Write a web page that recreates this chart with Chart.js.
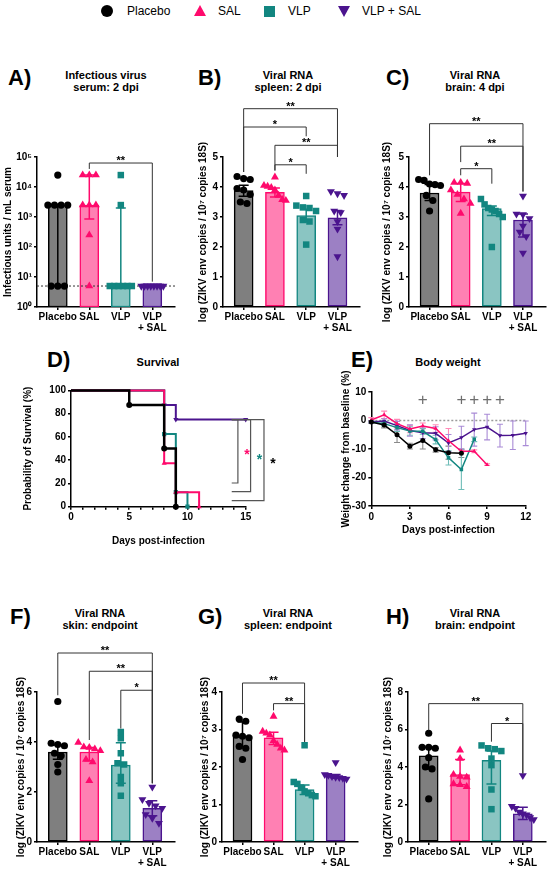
<!DOCTYPE html>
<html>
<head>
<meta charset="utf-8">
<script src="https://cdn.jsdelivr.net/npm/chart.js@4.4.1/dist/chart.umd.min.js"></script>
<style>
  body { margin: 0; width: 550px; height: 872px; position: relative; overflow: hidden; background: #fff;
         font-family: 'Liberation Sans', Arial, sans-serif; color: #000; }
  canvas { position: absolute; }
  .letter { position: absolute; font-weight: bold; font-size: 22px; line-height: 22px; }
  .title { position: absolute; font-weight: bold; font-size: 11px; line-height: 12px; text-align: center; width: 160px; }
  .lab { position: absolute; top: 4px; font-size: 12px; line-height: 14px; }
  .sym { position: absolute; }
</style>
</head>
<body>

<!-- shared legend -->
<div class="sym" style="left:101px;top:5px;width:12px;height:12px;border-radius:6px;background:#000"></div>
<div class="lab" style="left:127px">Placebo</div>
<div class="sym" style="left:193.5px;top:5px;width:0;height:0;border-left:6.5px solid transparent;border-right:6.5px solid transparent;border-bottom:11px solid #ff0a6c"></div>
<div class="lab" style="left:218px">SAL</div>
<div class="sym" style="left:263.5px;top:5.5px;width:11px;height:11px;background:#128680"></div>
<div class="lab" style="left:288px">VLP</div>
<div class="sym" style="left:337.5px;top:5.5px;width:0;height:0;border-left:6.5px solid transparent;border-right:6.5px solid transparent;border-top:11px solid #4b148e"></div>
<div class="lab" style="left:362px">VLP + SAL</div>

<div class="letter" style="left:8px;top:67px">A)</div>
<div class="title" style="left:26px;top:69px">Infectious virus<br>serum: 2 dpi</div>
<div class="letter" style="left:198px;top:67px">B)</div>
<div class="title" style="left:208px;top:69px">Viral RNA<br>spleen: 2 dpi</div>
<div class="letter" style="left:386px;top:67px">C)</div>
<div class="title" style="left:395px;top:69px">Viral RNA<br>brain: 4 dpi</div>
<div class="letter" style="left:47px;top:349px">D)</div>
<div class="title" style="left:78px;top:356px">Survival</div>
<div class="letter" style="left:351px;top:349px">E)</div>
<div class="title" style="left:368px;top:356px">Body weight</div>
<div class="letter" style="left:10px;top:606px">F)</div>
<div class="title" style="left:20px;top:607px">Viral RNA<br>skin: endpoint</div>
<div class="letter" style="left:198px;top:606px">G)</div>
<div class="title" style="left:208px;top:607px">Viral RNA<br>spleen: endpoint</div>
<div class="letter" style="left:386px;top:606px">H)</div>
<div class="title" style="left:395px;top:607px">Viral RNA<br>brain: endpoint</div>

<canvas id="cA"></canvas>
<canvas id="cB"></canvas>
<canvas id="cC"></canvas>
<canvas id="cD"></canvas>
<canvas id="cE"></canvas>
<canvas id="cF"></canvas>
<canvas id="cG"></canvas>
<canvas id="cH"></canvas>

<script>
'use strict';

// ---- data ----
var groupLabels = ['Placebo', 'SAL', 'VLP', ['VLP', '+ SAL']];

// A) infectious virus, serum 2 dpi (median + range bars, log axis)
var serumTicks = [1, 10, 100, 1000, 10000, 100000];
var serumMedian = [2500, 2500, 6, 6];
var serumLow = [5, 850, 6, 6];
var serumHigh = [2500, 25000, 2000, 6];
var serumLod = 5;
var serumPlacebo = [25000, 2500, 2500, 2500, 2500, 5, 5, 5];
var serumSal = [25000, 25000, 25000, 2500, 2500, 2500, 250, 5];
var serumVlp = [25000, 2500, 5, 5, 5, 5, 5, 5];
var serumVlpSal = [5, 5, 5, 5, 5, 5, 5, 5];

// B) spleen 2 dpi
var spleen2Mean = [3.88, 3.82, 3.05, 2.97];
var spleen2Low = [3.69, 3.67, 2.83, 2.74];
var spleen2High = [4.06, 3.97, 3.26, 3.22];
var spleen2Placebo = [4.35, 4.28, 4.25, 3.95, 3.9, 3.75, 3.5, 3.45];
var spleen2Sal = [4.33, 4.05, 4.02, 3.98, 3.9, 3.72, 3.58, 3.55];
var spleen2Vlp = [3.7, 3.38, 3.32, 3.3, 3.2, 2.9, 2.85, 2.08];
var spleen2VlpSal = [3.85, 3.78, 3.72, 3.2, 3.15, 2.85, 2.6, 1.68];

// C) brain 4 dpi
var brain4Mean = [3.8, 3.83, 3.28, 2.9];
var brain4Low = [3.55, 3.52, 3.05, 2.33];
var brain4High = [4.08, 4.12, 3.37, 3.1];
var brain4Placebo = [4.25, 4.22, 4.1, 4.08, 4.05, 3.72, 3.55, 3.2];
var brain4Sal = [4.15, 4.15, 4.12, 3.9, 3.75, 3.6, 3.45, 3.12];
var brain4Vlp = [3.6, 3.42, 3.3, 3.25, 3.2, 3.1, 3.0, 2.0];
var brain4VlpSal = [3.7, 3.1, 3.08, 2.95, 2.7, 2.5, 2.35, 1.8];

// D) survival (Kaplan-Meier steps)
var survDaysPlacebo = [0, 5, 8, 9];
var survPlacebo = [100, 87.5, 50, 0];
var survDaysSal = [0, 8, 9, 11];
var survSal = [100, 37.5, 12.5, 0];
var survDaysVlp = [0, 8, 9, 10];
var survVlp = [100, 62.5, 12.5, 0];
var survDaysVlpSal = [0, 8, 9, 15];
var survVlpSal = [100, 87.5, 75, 75];

// E) body weight change (%), mean and SD per day
var weightDays = [0, 1, 2, 3, 4, 5, 6, 7, 8, 9, 10, 11, 12];
var weightPlacebo = [-0.5, -1.6, -5.0, -9.0, -7.0, -10.3, -11.3, -11.5];
var weightPlaceboSd = [0.5, 1.0, 2.7, 1.0, 3.0, 0.8, 2.3, 1.5];
var weightSal = [0.2, 2.0, -1.1, -3.0, -1.9, -2.8, -7.1, -10.8, -10.8, -15.5];
var weightSalSd = [0.8, 1.3, 1.5, 1.3, 1.0, 1.3, 4.3, 0.5, 0.5, 0.3];
var weightVlp = [-0.5, -1.1, -2.5, -3.7, -3.8, -6.7, -13.1, -17.2, -6.6];
var weightVlpSd = [0.3, 0.8, 1.3, 1.5, 1.0, 1.5, 2.5, 7.0, 0.8];
var weightVlpSal = [-0.5, -0.2, -1.8, -3.5, -4.3, -4.5, -7.9, -6.0, -3.2, -2.3, -5.3, -5.2, -4.5];
var weightVlpSalSd = [0.4, 0.8, 1.5, 2.0, 2.0, 2.3, 3.0, 4.0, 5.8, 4.5, 4.0, 5.0, 4.3];
var weightSigDays = [4, 7, 8, 9, 10];

// F) skin endpoint
var skinMean = [3.6, 3.6, 3.08, 1.35];
var skinLow = [3.31, 3.25, 2.35, 1.05];
var skinHigh = [3.88, 3.78, 3.97, 1.65];
var skinPlacebo = [5.62, 3.95, 3.9, 3.85, 3.55, 3.45, 3.1, 2.8];
var skinSal = [3.98, 3.8, 3.78, 3.72, 3.65, 3.3, 3.2, 2.45];
var skinVlp = [4.4, 4.15, 3.55, 3.15, 3.1, 2.6, 2.35, 1.85];
var skinVlpSal = [2.2, 1.7, 1.55, 1.45, 1.35, 1.1, 0.95, 0.75];

// G) spleen endpoint
var spleenEndMean = [2.82, 2.78, 1.4, 1.75];
var spleenEndLow = [2.54, 2.6, 1.27, 1.7];
var spleenEndHigh = [3.2, 2.93, 1.52, 1.8];
var spleenEndPlacebo = [3.28, 3.22, 2.85, 2.82, 2.78, 2.55, 2.5, 2.2];
var spleenEndSal = [3.35, 2.95, 2.9, 2.85, 2.7, 2.6, 2.5, 2.45];
var spleenEndVlp = [2.58, 1.6, 1.55, 1.45, 1.35, 1.3, 1.25, 1.22];
var spleenEndVlpSal = [2.12, 1.8, 1.78, 1.75, 1.73, 1.72, 1.7, 1.68];

// H) brain endpoint
var brainEndMean = [4.6, 3.6, 4.35, 1.5];
var brainEndLow = [3.9, 3.05, 3.1, 1.2];
var brainEndHigh = [5.06, 4.4, 4.85, 1.85];
var brainEndPlacebo = [5.8, 5.05, 5.05, 5.0, 4.5, 4.0, 3.9, 2.3];
var brainEndSal = [4.9, 4.45, 3.6, 3.5, 3.45, 3.1, 3.05, 2.95];
var brainEndVlp = [5.15, 5.0, 4.95, 4.85, 4.45, 4.1, 2.8, 1.75];
var brainEndVlpSal = [3.55, 1.9, 1.8, 1.6, 1.5, 1.45, 1.3, 1.2];

// significance: [group a, group b, bracket level, label, leg end a, leg end b]
var sigA = [[1, 3, 63000, '**', 40000, 7]];
var sigB = [[0, 3, 6.61, '**', 4.5, 5.0], [0, 2, 6.0, '*', 4.5, 5.69],
            [1, 3, 5.39, '**', 4.55, 5.0], [1, 2, 4.74, '*', 4.55, 4.44]];
var sigC = [[0, 3, 6.11, '**', 4.39, 3.85], [1, 3, 5.36, '**', 4.83, 3.85],
            [1, 2, 4.61, '*', 4.39, 4.11]];
var sigF = [[0, 3, 7.56, '**', 5.87, 2.35], [1, 3, 6.83, '**', 4.08, 2.35],
            [2, 3, 6.07, '*', 4.54, 2.35]];
var sigG = [[0, 2, 4.24, '**', 3.42, 2.67], [1, 2, 3.69, '**', 3.51, 2.67]];
var sigH = [[0, 3, 7.38, '**', 5.96, 3.66], [2, 3, 6.32, '*', 5.35, 3.66]];

// ---- styling ----
var fills = ['#7f7f7f', '#ff80b3', '#8ac5c2', '#9c80c4'];
var colors = ['#000000', '#ff0a6c', '#128680', '#4b148e'];
var sdColors = ['#8a8a8a', '#ff8ab8', '#6fbdb8', '#a98bd6'];
var styles = ['circle', 'triangle', 'rect', 'triangle'];
var rotations = [0, 0, 0, 180];
var sizes = [3.6, 4.6, 4.6, 4.6];
var FONT = "'Liberation Sans', Arial, sans-serif";
var sup = ['\u2070', '\u00b9', '\u00b2', '\u00b3', '\u2074', '\u2075'];

Chart.defaults.font.family = FONT;
Chart.defaults.font.size = 10;
Chart.defaults.font.weight = 'bold';
Chart.defaults.color = '#000';
Chart.defaults.animation = false;

// scatter dot plot: points of about the same value sit side by side
function spread(vals, tol, step) {
  var idx = vals.map(function (v, i) { return i; })
                .sort(function (a, b) { return vals[b] - vals[a]; });
  var off = [];
  var i = 0;
  while (i < idx.length) {
    var j = i + 1;
    while (j < idx.length && vals[idx[j - 1]] - vals[idx[j]] < tol) j++;
    var n = j - i;
    var st = n > 1 ? Math.min(step, 0.7 / (n - 1)) : 0;
    for (var k = 0; k < n; k++) off[idx[i + k]] = (k - (n - 1) / 2) * st;
    i = j;
  }
  return off;
}

function place(id, box) {
  var c = document.getElementById(id);
  c.width = box.w; c.height = box.h;
  c.style.left = box.left + 'px'; c.style.top = box.top + 'px';
  c.style.width = box.w + 'px'; c.style.height = box.h + 'px';
  return c;
}

function axisStyle() {
  return {
    offset: false,
    border: { display: true, color: '#000', width: 1.5 },
    grid: { offset: false, drawOnChartArea: false, drawTicks: true, tickLength: 3, color: '#000', lineWidth: 1.5 }
  };
}

var barExtras = {
  id: 'barExtras',
  afterDatasetDraw: function (chart, args, o) {
    if (args.index !== 0) return;
    var ctx = chart.ctx, xs = chart.scales.x, ys = chart.scales.y, a = chart.chartArea;
    ctx.save();
    if (o.lod) {
      ctx.strokeStyle = '#333'; ctx.lineWidth = 1; ctx.setLineDash([2, 2]);
      var yl = ys.getPixelForValue(o.lod);
      ctx.beginPath(); ctx.moveTo(a.left, yl); ctx.lineTo(a.right, yl); ctx.stroke();
      ctx.setLineDash([]);
    }
    ctx.lineWidth = 1.5;
    o.low.forEach(function (lo, i) {
      if (lo === o.high[i]) return;
      var x = xs.getPixelForValue(i), y1 = ys.getPixelForValue(lo), y2 = ys.getPixelForValue(o.high[i]);
      ctx.strokeStyle = colors[i];
      ctx.beginPath();
      ctx.moveTo(x, y1); ctx.lineTo(x, y2);
      ctx.moveTo(x - 5, y1); ctx.lineTo(x + 5, y1);
      ctx.moveTo(x - 5, y2); ctx.lineTo(x + 5, y2);
      ctx.stroke();
    });
    ctx.restore();
  },
  afterDraw: function (chart, args, o) {
    var ctx = chart.ctx, xs = chart.scales.x, ys = chart.scales.y;
    ctx.save();
    ctx.strokeStyle = '#333'; ctx.lineWidth = 1;
    ctx.fillStyle = '#000'; ctx.font = 'bold 11px ' + FONT;
    ctx.textAlign = 'center'; ctx.textBaseline = 'alphabetic';
    o.sig.forEach(function (s) {
      var x1 = xs.getPixelForValue(s[0]), x2 = xs.getPixelForValue(s[1]);
      var y = ys.getPixelForValue(s[2]);
      ctx.beginPath();
      ctx.moveTo(x1, ys.getPixelForValue(s[4]));
      ctx.lineTo(x1, y); ctx.lineTo(x2, y);
      ctx.lineTo(x2, ys.getPixelForValue(s[5]));
      ctx.stroke();
      ctx.fillText(s[3], (x1 + x2) / 2, y + 1);
    });
    ctx.restore();
  }
};

function barPanel(id, box, p) {
  var canvas = place(id, box);
  var datasets = [{
    type: 'bar',
    data: p.mean.map(function (m, i) { return { x: i, y: m }; }),
    backgroundColor: fills, borderColor: colors, borderWidth: 1.5,
    borderSkipped: false, barThickness: 19, order: 3
  }];
  p.points.forEach(function (vals, g) {
    var off = spread(p.log ? vals.map(Math.log10) : vals, p.tol, 0.21);
    datasets.push({
      type: 'scatter',
      data: vals.map(function (v, i) { return { x: g + off[i], y: v }; }),
      pointStyle: styles[g], pointRotation: rotations[g], pointRadius: sizes[g],
      pointBackgroundColor: colors[g], pointBorderColor: colors[g], pointBorderWidth: 0,
      clip: false, order: 1
    });
  });

  var x = axisStyle();
  x.type = 'linear'; x.min = -0.66; x.max = 3.72;
  x.afterBuildTicks = function (s) { s.ticks = [0, 1, 2, 3].map(function (v) { return { value: v }; }); };
  x.afterFit = function (s) { s.height = box.xH; s.paddingLeft = 0; s.paddingRight = 0; };
  x.ticks = { autoSkip: false, maxRotation: 0, padding: 2, font: { lineHeight: 1.1 },
              callback: function (v) { return groupLabels[Math.round(v)]; } };

  var y = axisStyle();
  y.min = p.min; y.max = p.max;
  if (p.log) {
    y.type = 'logarithmic';
    y.afterBuildTicks = function (s) { s.ticks = p.ticks.map(function (v) { return { value: v }; }); };
    y.ticks = { padding: 2, callback: function (v) { return '10' + sup[Math.round(Math.log10(v))]; } };
  } else {
    y.ticks = { stepSize: p.step, padding: 2 };
  }
  y.afterFit = function (s) { s.width = box.yW; s.paddingTop = 0; s.paddingBottom = 0; };
  y.title = { display: true, text: p.yTitle, padding: 0, font: { size: 10, weight: 'bold' } };

  new Chart(canvas, {
    type: 'bar',
    data: { datasets: datasets },
    options: {
      responsive: false, events: [],
      layout: { padding: { top: box.padTop, right: box.padRight, left: 0, bottom: 0 } },
      scales: { x: x, y: y },
      plugins: { legend: { display: false }, tooltip: { enabled: false },
                 barExtras: { low: p.low, high: p.high, lod: p.lod, sig: p.sig } }
    },
    plugins: [barExtras]
  });
}

var rnaTitle = 'log (ZIKV env copies / 10\u2077 copies 18S)';

barPanel('cA', { left: 2, top: 95, w: 183, h: 240, yW: 35, xH: 28, padTop: 62, padRight: 10 }, {
  log: true, min: 1, max: 100000, ticks: serumTicks, tol: 0.2,
  mean: serumMedian, low: serumLow, high: serumHigh, lod: serumLod,
  points: [serumPlacebo, serumSal, serumVlp, serumVlpSal], sig: sigA,
  yTitle: 'Infectious units / mL serum'
});
barPanel('cB', { left: 197, top: 95, w: 171, h: 240, yW: 26, xH: 28, padTop: 62, padRight: 8 }, {
  min: 0, max: 5, step: 1, tol: 0.2,
  mean: spleen2Mean, low: spleen2Low, high: spleen2High,
  points: [spleen2Placebo, spleen2Sal, spleen2Vlp, spleen2VlpSal], sig: sigB, yTitle: rnaTitle
});
barPanel('cC', { left: 381, top: 95, w: 169, h: 240, yW: 28, xH: 28, padTop: 62, padRight: 3 }, {
  min: 0, max: 5, step: 1, tol: 0.2,
  mean: brain4Mean, low: brain4Low, high: brain4High,
  points: [brain4Placebo, brain4Sal, brain4Vlp, brain4VlpSal], sig: sigC, yTitle: rnaTitle
});
barPanel('cF', { left: 15, top: 635, w: 170, h: 237, yW: 22, xH: 30, padTop: 57, padRight: 10 }, {
  min: 0, max: 6, step: 2, tol: 0.25,
  mean: skinMean, low: skinLow, high: skinHigh,
  points: [skinPlacebo, skinSal, skinVlp, skinVlpSal], sig: sigF, yTitle: rnaTitle
});
barPanel('cG', { left: 199, top: 635, w: 169, h: 237, yW: 23, xH: 30, padTop: 57, padRight: 10 }, {
  min: 0, max: 4, step: 1, tol: 0.17,
  mean: spleenEndMean, low: spleenEndLow, high: spleenEndHigh,
  points: [spleenEndPlacebo, spleenEndSal, spleenEndVlp, spleenEndVlpSal], sig: sigG, yTitle: rnaTitle
});
barPanel('cH', { left: 382, top: 635, w: 168, h: 237, yW: 26, xH: 30, padTop: 57, padRight: 3 }, {
  min: 0, max: 8, step: 2, tol: 0.35,
  mean: brainEndMean, low: brainEndLow, high: brainEndHigh,
  points: [brainEndPlacebo, brainEndSal, brainEndVlp, brainEndVlpSal], sig: sigH, yTitle: rnaTitle
});

// ---- D) survival ----
// log-rank brackets of VLP + SAL against each group, drawn right of the curves
var survBrackets = [
  { start: 13.8, x: 14.33, top: 75, bottom: 20.4, group: 1 },
  { start: 13.8, x: 15.42, top: 75, bottom: 12.9, group: 2 },
  { start: 13.8, x: 16.57, top: 75, bottom: 5.2, group: 0 }
];
var survExtras = {
  id: 'survExtras',
  afterDraw: function (chart) {
    var ctx = chart.ctx, xs = chart.scales.x, ys = chart.scales.y;
    ctx.save();
    ctx.strokeStyle = '#555'; ctx.lineWidth = 1.2;
    ctx.font = 'bold 14px ' + FONT; ctx.textAlign = 'center'; ctx.textBaseline = 'alphabetic';
    survBrackets.forEach(function (b) {
      var x0 = xs.getPixelForValue(b.start), x1 = xs.getPixelForValue(b.x);
      var y0 = ys.getPixelForValue(b.top), y1 = ys.getPixelForValue(b.bottom);
      ctx.beginPath();
      ctx.moveTo(x0, y0); ctx.lineTo(x1, y0); ctx.lineTo(x1, y1); ctx.lineTo(x0, y1);
      ctx.stroke();
      ctx.fillStyle = colors[b.group];
      ctx.fillText('*', x1 + 9, (y0 + y1) / 2 + 8);
    });
    ctx.restore();
  }
};

(function () {
  var box = { left: 22, top: 380, w: 260, h: 170 };
  var canvas = place('cD', box);
  var series = [[survDaysPlacebo, survPlacebo], [survDaysSal, survSal],
                [survDaysVlp, survVlp], [survDaysVlpSal, survVlpSal]];
  var datasets = series.map(function (s, g) {
    return {
      data: s[0].map(function (d, i) { return { x: d, y: s[1][i] }; }),
      showLine: true, stepped: true, clip: 6,
      borderColor: colors[g], borderWidth: g === 0 ? 2.5 : 2,
      pointStyle: styles[g], pointRotation: rotations[g],
      pointRadius: function (c) { return c.dataIndex === 0 ? 0 : 3; },
      pointBackgroundColor: colors[g], pointBorderColor: colors[g], pointBorderWidth: 0
    };
  });
  var x = axisStyle();
  x.min = 0; x.max = 15;
  x.ticks = { stepSize: 1, autoSkip: false, maxRotation: 0, padding: 2,
              callback: function (v) { return v % 5 === 0 ? v : ''; } };
  x.title = { display: true, text: 'Days post-infection', padding: { top: 0, bottom: 3 } };
  x.afterFit = function (s) { s.height = 43.3; s.paddingLeft = 0; s.paddingRight = 0; };
  var y = axisStyle();
  y.min = 0; y.max = 100;
  y.ticks = { stepSize: 20, padding: 2 };
  y.title = { display: true, text: 'Probability of Survival (%)', padding: 0 };
  y.afterFit = function (s) { s.width = 49; s.paddingTop = 0; s.paddingBottom = 0; };
  new Chart(canvas, {
    type: 'scatter',
    data: { datasets: datasets },
    options: {
      responsive: false, events: [],
      layout: { padding: { top: 10.5, right: 36.3, left: 0, bottom: 0 } },
      scales: { x: x, y: y },
      plugins: { legend: { display: false }, tooltip: { enabled: false } }
    },
    plugins: [survExtras]
  });
})();

// ---- E) body weight ----
var weightExtras = {
  id: 'weightExtras',
  beforeDatasetsDraw: function (chart, args, o) {
    var ctx = chart.ctx, xs = chart.scales.x, ys = chart.scales.y;
    ctx.save();
    ctx.strokeStyle = '#9a9a9a'; ctx.lineWidth = 1.5; ctx.setLineDash([2, 2]);
    var y0 = ys.getPixelForValue(0);
    ctx.beginPath(); ctx.moveTo(xs.getPixelForValue(0), y0); ctx.lineTo(xs.getPixelForValue(12), y0); ctx.stroke();
    ctx.setLineDash([]);
    ctx.lineWidth = 1.1;
    o.sd.forEach(function (sd, g) {
      ctx.strokeStyle = sdColors[g];
      o.mean[g].forEach(function (m, i) {
        var x = xs.getPixelForValue(weightDays[i]);
        var y1 = ys.getPixelForValue(m - sd[i]), y2 = ys.getPixelForValue(m + sd[i]);
        ctx.beginPath();
        ctx.moveTo(x, y1); ctx.lineTo(x, y2);
        ctx.moveTo(x - 3, y1); ctx.lineTo(x + 3, y1);
        ctx.moveTo(x - 3, y2); ctx.lineTo(x + 3, y2);
        ctx.stroke();
      });
    });
    ctx.fillStyle = '#6e6e6e'; ctx.font = '17px ' + FONT;
    ctx.textAlign = 'center'; ctx.textBaseline = 'middle';
    weightSigDays.forEach(function (d) {
      ctx.fillText('+', xs.getPixelForValue(d), ys.getPixelForValue(7));
    });
    ctx.restore();
  }
};

(function () {
  var box = { left: 340, top: 360, w: 205, h: 180 };
  var canvas = place('cE', box);
  var means = [weightPlacebo, weightSal, weightVlp, weightVlpSal];
  var sds = [weightPlaceboSd, weightSalSd, weightVlpSd, weightVlpSalSd];
  var datasets = means.map(function (vals, g) {
    return {
      data: vals.map(function (v, i) { return { x: weightDays[i], y: v }; }),
      showLine: true, clip: 4,
      borderColor: colors[g], borderWidth: 1.5,
      pointStyle: styles[g], pointRotation: rotations[g], pointRadius: 2.5,
      pointBackgroundColor: colors[g], pointBorderColor: colors[g], pointBorderWidth: 0
    };
  });
  var x = axisStyle();
  x.min = 0; x.max = 12;
  x.ticks = { stepSize: 3, padding: 2, maxRotation: 0 };
  x.title = { display: true, text: 'Days post-infection', padding: { top: 0, bottom: 4 } };
  x.afterFit = function (s) { s.height = 34; s.paddingLeft = 0; s.paddingRight = 0; };
  var y = axisStyle();
  y.min = -30; y.max = 10;
  y.ticks = { stepSize: 10, padding: 2 };
  y.title = { display: true, text: 'Weight change from baseline (%)', padding: 0 };
  y.afterFit = function (s) { s.width = 31.3; s.paddingTop = 0; s.paddingBottom = 0; };
  new Chart(canvas, {
    type: 'scatter',
    data: { datasets: datasets },
    options: {
      responsive: false, events: [],
      layout: { padding: { top: 32, right: 19.3, left: 0, bottom: 0 } },
      scales: { x: x, y: y },
      plugins: { legend: { display: false }, tooltip: { enabled: false },
                 weightExtras: { mean: means, sd: sds } }
    },
    plugins: [weightExtras]
  });
})();
</script>
</body>
</html>
